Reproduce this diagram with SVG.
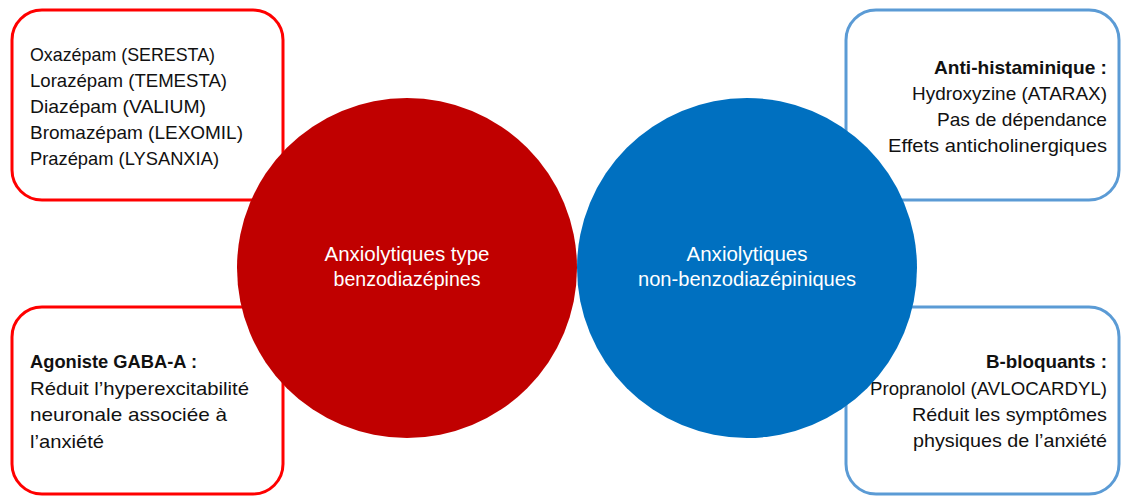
<svg xmlns="http://www.w3.org/2000/svg" width="1121" height="497" viewBox="0 0 1121 497">
<style>
.box-r{fill:#fff;stroke:#ff0000;stroke-width:3}
.box-b{fill:#fff;stroke:#5b9bd5;stroke-width:3}
.t{font-family:"Liberation Sans",Arial,sans-serif;font-size:19px;fill:#111}
.b{font-weight:bold}
.r{text-anchor:end}
.c{font-family:"Liberation Sans",Arial,sans-serif;font-size:19.5px;fill:#fff;text-anchor:middle}
</style>
<rect width="1121" height="497" fill="#fff"/>
<g id="box-benzo-list">
<rect class="box-r" x="12" y="10" width="271" height="190" rx="30"/>
<text class="t" x="30" y="61" textLength="185" lengthAdjust="spacingAndGlyphs">Oxazépam (SERESTA)</text>
<text class="t" x="30" y="87" textLength="197" lengthAdjust="spacingAndGlyphs">Lorazépam (TEMESTA)</text>
<text class="t" x="30" y="113" textLength="176" lengthAdjust="spacingAndGlyphs">Diazépam (VALIUM)</text>
<text class="t" x="30" y="139" textLength="213" lengthAdjust="spacingAndGlyphs">Bromazépam (LEXOMIL)</text>
<text class="t" x="30" y="165" textLength="189" lengthAdjust="spacingAndGlyphs">Prazépam (LYSANXIA)</text>
</g>
<g id="box-gaba">
<rect class="box-r" x="12" y="307" width="271" height="187" rx="30"/>
<text class="t b" x="30" y="368" textLength="167" lengthAdjust="spacingAndGlyphs">Agoniste GABA-A :</text>
<text class="t" x="30" y="394.5" textLength="219" lengthAdjust="spacingAndGlyphs">Réduit l’hyperexcitabilité</text>
<text class="t" x="30" y="421" textLength="197" lengthAdjust="spacingAndGlyphs">neuronale associée à</text>
<text class="t" x="30" y="447.5" textLength="74" lengthAdjust="spacingAndGlyphs">l’anxiété</text>
</g>
<g id="box-antihistaminique">
<rect class="box-b" x="846" y="10" width="273" height="190" rx="30"/>
<text class="t b r" x="1107" y="74" textLength="173" lengthAdjust="spacingAndGlyphs">Anti-histaminique :</text>
<text class="t r" x="1107" y="100" textLength="195" lengthAdjust="spacingAndGlyphs">Hydroxyzine (ATARAX)</text>
<text class="t r" x="1107" y="126" textLength="170" lengthAdjust="spacingAndGlyphs">Pas de dépendance</text>
<text class="t r" x="1107" y="152" textLength="219" lengthAdjust="spacingAndGlyphs">Effets anticholinergiques</text>
</g>
<g id="box-bbloquants">
<rect class="box-b" x="846" y="307" width="273" height="187" rx="30"/>
<text class="t b r" x="1107" y="368" textLength="121" lengthAdjust="spacingAndGlyphs">B-bloquants :</text>
<text class="t r" x="1107" y="395" textLength="237" lengthAdjust="spacingAndGlyphs">Propranolol (AVLOCARDYL)</text>
<text class="t r" x="1107" y="421" textLength="195" lengthAdjust="spacingAndGlyphs">Réduit les symptômes</text>
<text class="t r" x="1107" y="447" textLength="194" lengthAdjust="spacingAndGlyphs">physiques de l’anxiété</text>
</g>
<g id="circle-benzo">
<circle cx="407" cy="268" r="170" fill="#c00000"/>
<text class="c" x="407" y="261" textLength="165" lengthAdjust="spacingAndGlyphs">Anxiolytiques type</text>
<text class="c" x="407" y="286" textLength="147" lengthAdjust="spacingAndGlyphs">benzodiazépines</text>
</g>
<g id="circle-nonbenzo">
<circle cx="747" cy="268" r="170" fill="#0070c0"/>
<text class="c" x="747" y="261" textLength="121" lengthAdjust="spacingAndGlyphs">Anxiolytiques</text>
<text class="c" x="747" y="286" textLength="218" lengthAdjust="spacingAndGlyphs">non-benzodiazépiniques</text>
</g>
<g id="connectors"/>
</svg>
